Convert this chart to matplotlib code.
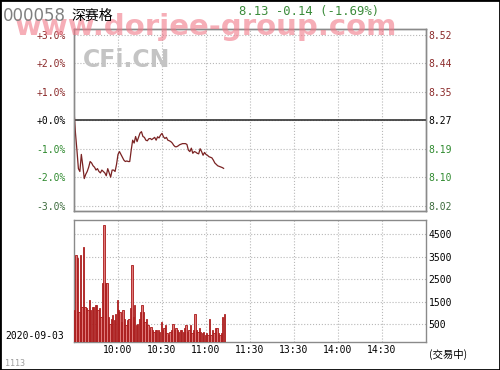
import matplotlib
matplotlib.use('Agg')
import matplotlib.pyplot as plt
from matplotlib.patches import Rectangle
import numpy as np

# quote header
code = '000058'
name = '深赛格'
prev_close = 8.27
last_price = 8.13
change = -0.14
change_pct = -1.69
date_str = '2020-09-03'
stamp = '1113'

# minute by minute change vs previous close, in percent (9:30 onwards)
pct = [0.35, -0.45, -1.05, -1.7, -1.8, -1.2, -1.6, -2.05, -1.9, -1.8,
       -1.65, -1.45, -1.5, -1.6, -1.65, -1.75, -1.7, -1.8, -1.85, -1.75,
       -1.8, -1.85, -1.95, -1.7, -1.85, -2.0, -1.75, -1.75, -1.8, -1.55,
       -1.2, -1.1, -1.2, -1.3, -1.4, -1.45, -1.43, -1.45, -1.45, -1.05,
       -0.7, -0.8, -0.57, -0.75, -0.6, -0.45, -0.4, -0.57, -0.6, -0.7,
       -0.72, -0.65, -0.64, -0.68, -0.64, -0.6, -0.7, -0.58, -0.62, -0.52,
       -0.46, -0.58, -0.64, -0.6, -0.7, -0.72, -0.75, -0.8, -0.88, -0.93,
       -0.93, -0.9, -0.86, -0.84, -0.82, -0.82, -0.82, -0.85, -1.05, -1.1,
       -0.98, -1.16, -1.1, -1.12, -1.16, -1.18, -1.0, -1.1, -1.23, -1.13,
       -1.2, -1.23, -1.28, -1.3, -1.32, -1.4, -1.5, -1.55, -1.6, -1.62,
       -1.64, -1.66, -1.69]

# volume per minute (lots)
vol = [1120, 3570, 3420, 1050, 3570, 1270, 3940, 1270, 1200, 1120,
       1570, 1120, 1270, 1270, 1340, 1340, 1120, 1200, 830, 2310,
       4900, 2310, 2310, 830, 530, 750, 900, 680, 970, 1570,
       1120, 1050, 600, 1120, 750, 460, 680, 750, 1200, 3120,
       830, 1340, 460, 530, 750, 1050, 1340, 1050, 600, 750,
       460, 230, 380, 230, 160, 230, 230, 230, 160, 600,
       230, 310, 460, 90, 30, 160, 230, 530, 230, 310,
       230, 160, 230, 230, 160, 310, 460, 160, 230, 460,
       90, 230, 970, 230, 160, 310, 160, 90, 160, 30,
       90, 30, 750, 30, 230, 90, 310, 310, 90, 30,
       90, 830, 970]

pct_ticks = [3, 2, 1, 0, -1, -2, -3]
vol_ticks = [500, 1500, 2500, 3500, 4500]
time_pos = [30, 60, 90, 120, 150, 180, 210]
time_labels = ['10:00', '10:30', '11:00', '11:30', '13:30', '14:00', '14:30']

up_col = '#8b2a2a'
dn_col = '#2f8a2f'
grid_col = '#b8b8b8'
spine_col = '#8a8a8a'
mono = 'DejaVu Sans Mono'
cjk = ['Noto Sans CJK SC', 'DejaVu Sans']

minutes = np.arange(len(pct))
vminute = np.arange(len(vol))

fig = plt.figure(figsize=(5, 3.7), dpi=100)
fig.patch.set_facecolor('white')

ax = fig.add_axes([0.148, 0.4297, 0.704, 0.4919])
ax2 = fig.add_axes([0.148, 0.0757, 0.704, 0.3297])

# ---- price panel
lo, hi = -3.19, 3.21
ax.set_xlim(0, 240)
ax.set_ylim(lo, hi)
ax.set_xticks(time_pos)
ax.set_xticklabels([])
ax.set_yticks(pct_ticks)
ax.set_yticklabels(['%+.1f%%' % p for p in pct_ticks], fontfamily=mono, fontsize=7)
for lab, p in zip(ax.get_yticklabels(), pct_ticks):
    lab.set_color(up_col if p > 0 else ('black' if p == 0 else dn_col))
ax.get_yticklabels()[-1].set_color('#3d6b3d')
ax.tick_params(length=0, pad=6)
ax.grid(True, ls=':', color=grid_col, lw=0.8)
ax.axhline(0, color='#333333', lw=1.2, zorder=3)
ax.plot(minutes, pct, color='#7a2222', lw=0.9, zorder=4)

axr = ax.twinx()
axr.set_ylim(prev_close * (1 + lo / 100), prev_close * (1 + hi / 100))
prices = [prev_close * (1 + p / 100) for p in pct_ticks]
axr.set_yticks(prices)
axr.set_yticklabels(['%.2f' % v for v in prices], fontfamily=mono, fontsize=7)
for lab, p in zip(axr.get_yticklabels(), pct_ticks):
    lab.set_color(up_col if p > 0 else ('black' if p == 0 else dn_col))
axr.get_yticklabels()[-1].set_color('#3d6b3d')
axr.tick_params(length=0, pad=2)

# ---- volume panel
vfloor, vtop = -290, 5120
ax2.set_xlim(0, 240)
ax2.set_ylim(vfloor, vtop)
ax2.bar(vminute, np.array(vol) - vfloor, bottom=vfloor, width=0.9, align='edge',
        color='#e07a7a', edgecolor='#a81818', lw=0.6, zorder=3)
ax2.yaxis.tick_right()
ax2.set_yticks(vol_ticks)
ax2.set_yticklabels([str(v) for v in vol_ticks], fontfamily=mono, fontsize=7)
ax2.set_xticks(time_pos)
ax2.set_xticklabels(time_labels, fontfamily=mono, fontsize=7)
ax2.tick_params(length=0, pad=2)
ax2.grid(True, ls=':', color=grid_col, lw=0.8)

for a in (ax, axr, ax2):
    for s in a.spines.values():
        s.set_color(spine_col)
        s.set_linewidth(1.0)

# ---- header and watermarks
fig.text(0.03, 0.905, 'www.dorjee-group.com', fontsize=21, fontweight='bold',
         color='#f07888', alpha=0.6, va='baseline', zorder=10)
fig.text(0.166, 0.838, 'CFi.CN', fontsize=17, fontweight='bold', color='#c4c4c4',
         va='center', zorder=10)
fig.text(0.006, 0.958, code, fontsize=12, color='#808080', va='center', zorder=11)
fig.text(0.143, 0.958, name, fontsize=10, color='black', va='center', family=cjk,
         zorder=11)
fig.text(0.478, 0.968, '%.2f %.2f (%.2f%%)' % (last_price, change, change_pct),
         fontsize=8.8, color='#3c8c3c', va='center', fontfamily=mono, zorder=11)

fig.text(0.01, 0.092, date_str, fontsize=7, fontfamily=mono, va='center')
fig.text(0.01, 0.017, stamp, fontsize=6, color='#a0a0a0', va='center', fontfamily=mono)
fig.text(0.858, 0.043, '(交易中)', fontsize=7.5, va='center', family=cjk)

fig.patches.append(Rectangle((0, 0), 1, 1, transform=fig.transFigure, fill=False,
                             edgecolor='black', lw=2))

fig.savefig('out.png', dpi=100)
